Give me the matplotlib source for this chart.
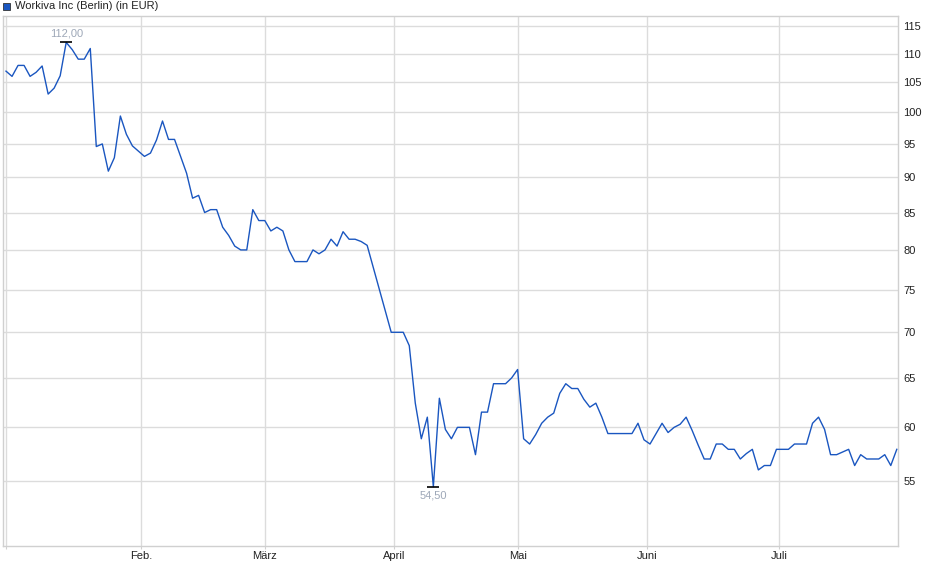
import matplotlib
matplotlib.use('Agg')
import matplotlib.pyplot as plt
import matplotlib.ticker as mticker

plt.rcParams['font.family'] = ['Liberation Sans', 'DejaVu Sans']

TITEL = 'Workiva Inc (Berlin) (in EUR)'

# Handelstage (Index) und Schlusskurse in EUR
tag = [0, 1, 2, 3, 4, 5, 6, 7, 8, 9, 10, 11, 12, 13, 14, 15, 16, 17, 18, 19,
       20, 21, 23, 24, 25, 26, 27, 28, 29, 30, 31, 32, 33, 34, 35, 36, 37, 38,
       39, 40, 41, 42, 43, 44, 45, 46, 47, 48, 50, 51, 52, 53, 54, 55, 56, 57,
       58, 59, 60, 64, 66, 67, 68, 69, 70, 71, 72, 73, 74, 75, 77, 78, 79, 80,
       81, 83, 84, 85, 86, 87, 88, 89, 90, 91, 92, 93, 94, 95, 96, 97, 98, 99,
       100, 104, 105, 106, 107, 109, 110, 111, 112, 113, 114, 115, 116, 117,
       118, 119, 120, 121, 122, 123, 124, 125, 126, 127, 128, 130, 131, 133,
       134, 135, 136, 137, 138, 140, 141, 142, 143, 145, 146, 147, 148]
kurs = [106.9, 106.0, 107.9, 107.9, 106.0, 106.7, 107.8, 103.0, 104.0, 106.1,
        112.0, 110.7, 109.0, 109.0, 110.9, 94.6, 95.0, 90.9, 92.9, 99.4,
        96.5, 94.7, 93.1, 93.6, 95.6, 98.6, 95.7, 95.7, 93.1, 90.6, 87.0, 87.4,
        85.0, 85.4, 85.4, 83.0, 81.9, 80.5, 80.0, 80.0, 85.4, 83.9, 83.9, 82.5,
        83.0, 82.5, 80.0, 78.5, 78.5, 80.0, 79.5, 80.0, 81.4, 80.5, 82.4, 81.4,
        81.4, 81.1, 80.6, 70.0, 70.0, 68.5, 62.4, 58.9, 61.0, 54.5, 62.9, 59.8,
        58.9, 60.0, 60.0, 57.4, 61.5, 61.5, 64.4, 64.4, 65.0, 65.9, 58.9, 58.4,
        59.3, 60.4, 61.0, 61.4, 63.4, 64.4, 63.9, 63.9, 62.8, 62.0, 62.4, 61.0,
        59.4, 59.4, 60.4, 58.8, 58.4, 60.4, 59.5, 60.0, 60.3, 61.0, 59.7, 58.3,
        57.0, 57.0, 58.4, 58.4, 57.9, 57.9, 57.0, 57.5, 57.9, 56.0, 56.4, 56.4,
        57.9, 57.9, 58.4, 58.4, 60.4, 61.0, 59.8, 57.4, 57.4, 57.9, 56.4, 57.4,
        57.0, 57.0, 57.4, 56.4, 57.9]

# Monatsanfaenge (Index) und Beschriftung
monat_pos = [0, 22.5, 43, 64.5, 85, 106.5, 128.5]
monat_txt = ['', 'Feb.', 'März', 'April', 'Mai', 'Juni', 'Juli']
y_ticks = [55, 60, 65, 70, 75, 80, 85, 90, 95, 100, 105, 110, 115]

fig = plt.figure(figsize=(9.4, 5.79), dpi=100)
ax = fig.add_axes([3 / 940, 33 / 579, 895 / 940, 530 / 579])

ax.plot(tag, kurs, color='#1a56c0', linewidth=1.0, zorder=3)

ax.set_yscale('log')
ax.set_ylim(49.5, 116.9)
ax.set_xlim(-0.5, 148.2)

ax.yaxis.set_major_locator(mticker.FixedLocator(y_ticks))
ax.yaxis.set_major_formatter(mticker.FixedFormatter([str(v) for v in y_ticks]))
ax.yaxis.set_minor_locator(mticker.NullLocator())
ax.yaxis.tick_right()
ax.tick_params(axis='y', length=0, pad=4, labelsize=8, labelcolor='#222222')

ax.set_xticks(monat_pos)
ax.set_xticklabels(monat_txt)
ax.tick_params(axis='x', length=2, color='#d0d0d0', pad=1.5, labelsize=8,
               labelcolor='#222222')

ax.grid(True, color='#dcdcdc', linewidth=1.0, zorder=0)
for s in ax.spines.values():
    s.set_color('#d0d0d0')
    s.set_linewidth(1.0)

# Hoch und Tief markieren
i_max = kurs.index(max(kurs))
i_min = kurs.index(min(kurs))
ax.plot(tag[i_max], kurs[i_max], marker='_', markersize=9, color='black',
        markeredgewidth=1.2, zorder=4)
ax.plot(tag[i_min], kurs[i_min], marker='_', markersize=9, color='black',
        markeredgewidth=1.2, zorder=4)
ax.annotate(f'{kurs[i_max]:.2f}'.replace('.', ','), (tag[i_max], kurs[i_max]),
            xytext=(0, 3), textcoords='offset points', ha='center', va='bottom',
            fontsize=8, color='#9ea8b8')
ax.annotate(f'{kurs[i_min]:.2f}'.replace('.', ','), (tag[i_min], kurs[i_min]),
            xytext=(0, -3), textcoords='offset points', ha='center', va='top',
            fontsize=8, color='#9ea8b8')

# Legende oben links
fig.patches.append(plt.Rectangle((3 / 940, 1 - 10 / 579), 7 / 940, 7 / 579,
                                 transform=fig.transFigure, facecolor='#1a56c0',
                                 edgecolor='#333333', linewidth=0.6))
fig.text(15 / 940, 1 - 6 / 579, TITEL, ha='left', va='center', fontsize=8,
         color='#222222')

fig.savefig('out.png', dpi=100)
